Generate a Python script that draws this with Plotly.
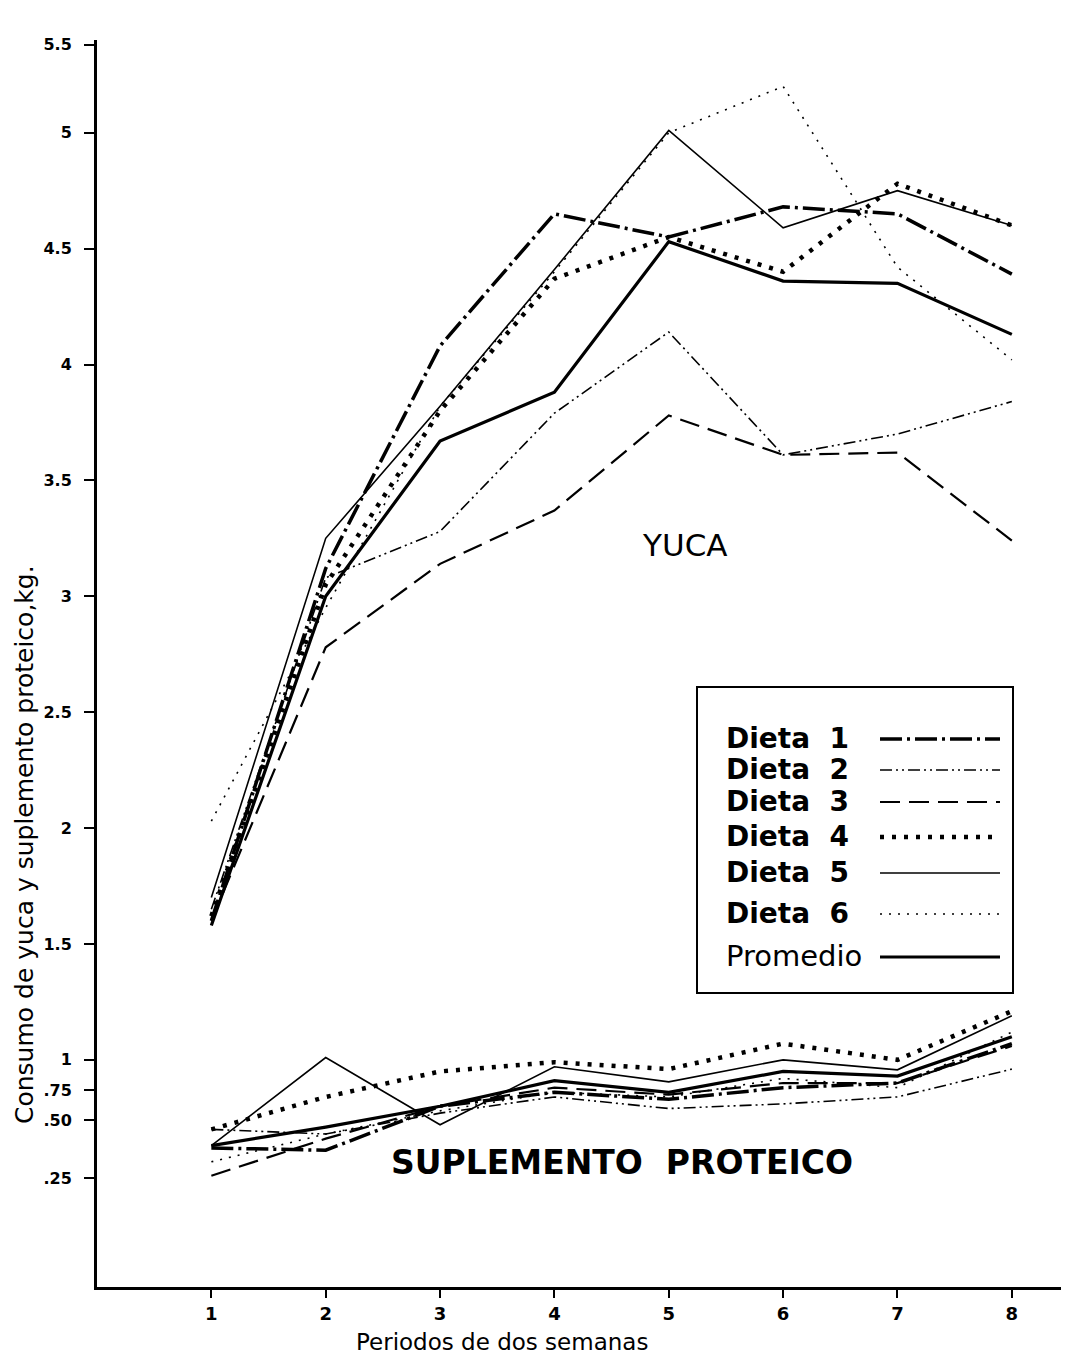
import plotly.graph_objects as go

# ---------------- data ----------------
periodos = [1, 2, 3, 4, 5, 6, 7, 8]
x_tick_labels = ["1", "2", "3", "4", "5", "6", "7", "8"]

series_names = ["Dieta  1", "Dieta  2", "Dieta  3", "Dieta  4", "Dieta  5", "Dieta  6", "Promedio"]

# consumo de yuca (kg)
yuca_d1 = [1.60, 3.12, 4.08, 4.65, 4.55, 4.68, 4.65, 4.39]
yuca_d2 = [1.65, 3.08, 3.28, 3.79, 4.14, 3.61, 3.70, 3.84]
yuca_d3 = [1.60, 2.78, 3.14, 3.37, 3.78, 3.61, 3.62, 3.24]
yuca_d4 = [1.62, 3.05, 3.80, 4.37, 4.55, 4.40, 4.78, 4.60]
yuca_d5 = [1.70, 3.25, 3.82, 4.41, 5.01, 4.59, 4.75, 4.60]
yuca_d6 = [2.03, 2.95, 3.82, 4.40, 5.00, 5.20, 4.42, 4.02]
yuca_prom = [1.58, 3.00, 3.67, 3.88, 4.53, 4.36, 4.35, 4.13]

# consumo de suplemento proteico (kg)
sup_d1 = [0.62, 0.61, 0.80, 0.86, 0.83, 0.88, 0.90, 1.07]
sup_d2 = [0.70, 0.68, 0.77, 0.84, 0.79, 0.81, 0.84, 0.96]
sup_d3 = [0.50, 0.66, 0.80, 0.88, 0.85, 0.90, 0.90, 1.06]
sup_d4 = [0.70, 0.84, 0.95, 0.99, 0.96, 1.07, 1.00, 1.21]
sup_d5 = [0.63, 1.01, 0.72, 0.97, 0.905, 1.00, 0.957, 1.19]
sup_d6 = [0.56, 0.68, 0.78, 0.86, 0.84, 0.92, 0.88, 1.12]
sup_prom = [0.63, 0.71, 0.80, 0.91, 0.86, 0.95, 0.93, 1.10]

y_tick_labels = [".25", ".50", ".75", "1", "1.5", "2", "2.5", "3", "3.5", "4", "4.5", "5", "5.5"]

yuca_all = [yuca_d1, yuca_d2, yuca_d3, yuca_d4, yuca_d5, yuca_d6, yuca_prom]
sup_all = [sup_d1, sup_d2, sup_d3, sup_d4, sup_d5, sup_d6, sup_prom]

# ---------------- styles ----------------
styles = [
    dict(width=3.5, dash="22px,5px,3px,5px"),
    dict(width=1.6, dash="12px,4px,2px,4px,2px,4px"),
    dict(width=2.2, dash="20px,9px"),
    dict(width=4.5, dash="4px,8px"),
    dict(width=1.6, dash="solid"),
    dict(width=1.6, dash="2px,7px"),
    dict(width=3.2, dash="solid"),
]

OFF = 8                     # page body margin
W, H = 1069 - 2 * OFF, 1363 - 2 * OFF
ML, MT = 97 - OFF, 40 - OFF
MB = H - (1287 - OFF)
MR = 0
PW, PH = W - ML - MR, H - MT - MB
X_RANGE = [0, 8.43]
Y_RANGE = [0.02, 5.40]
# tick positions as drawn in the original figure (lower labels are not evenly spaced)
y_tick_pos = [0.49, 0.74, 0.87, 1, 1.5, 2, 2.5, 3, 3.5, 4, 4.5, 5, 5.38]


def px_to_paper(px, py):
    fx, fy = px - OFF, py - OFF
    return (fx - ML) / PW, (H - MB - fy) / PH


FONT = "DejaVu Sans"

fig = go.Figure()
for name, yv, sv, st in zip(series_names, yuca_all, sup_all, styles):
    line = dict(color="black", width=st["width"], dash=st["dash"])
    fig.add_trace(go.Scatter(x=periodos, y=yv, mode="lines", name=name, line=line,
                             legendgroup=name, showlegend=False))
    fig.add_trace(go.Scatter(x=periodos, y=sv, mode="lines", name=name, line=line,
                             legendgroup=name, showlegend=False))

annotations = []
shapes = []


def add_text(text, px, py, size, angle=0, xanchor="center", bold=False):
    x, y = px_to_paper(px, py)
    annotations.append(dict(text=("<b>%s</b>" % text) if bold else text, x=x, y=y,
                            xref="paper", yref="paper", xanchor=xanchor, yanchor="middle",
                            textangle=angle, showarrow=False,
                            font=dict(family=FONT, size=size, color="black")))


# text labels inside plot
add_text("YUCA", 684, 545, 31)
add_text("SUPLEMENTO  PROTEICO", 622, 1162, 33, bold=True)

# axis titles
add_text("Consumo de yuca y suplemento proteico,kg.", 25, 845, 25, angle=-90)
add_text("Periodos de dos semanas", 502, 1342, 23)

# custom legend (labels left, line samples right)
bx0, by0 = px_to_paper(697, 993)
bx1, by1 = px_to_paper(1013, 687)
shapes.append(dict(type="rect", xref="paper", yref="paper", x0=bx0, y0=by0, x1=bx1, y1=by1,
                   line=dict(color="black", width=2), fillcolor="white", layer="above"))
row_y = [738, 769, 801, 836, 872, 913, 956]
for i, (name, st) in enumerate(zip(series_names, styles)):
    if name == "Promedio":
        add_text(name, 724, row_y[i], 29, xanchor="left")
    else:
        add_text(name, 724, row_y[i], 28, xanchor="left", bold=True)
    lx0, ly = px_to_paper(880, row_y[i] + 1)
    lx1, _ = px_to_paper(1000, row_y[i] + 1)
    shapes.append(dict(type="line", xref="paper", yref="paper", x0=lx0, x1=lx1, y0=ly, y1=ly,
                       line=dict(color="black", width=st["width"], dash=st["dash"]), layer="above"))

fig.update_layout(
    width=W, height=H,
    margin=dict(l=ML, r=MR, t=MT, b=MB, pad=0),
    paper_bgcolor="white", plot_bgcolor="white",
    showlegend=False,
    annotations=annotations,
    shapes=shapes,
    font=dict(family=FONT, color="black"),
)
fig.update_xaxes(range=X_RANGE, tickmode="array", tickvals=periodos, ticktext=x_tick_labels,
                 showgrid=False, zeroline=False, showline=True, linecolor="black", linewidth=3,
                 ticks="outside", ticklen=8, tickwidth=2, tickcolor="black",
                 tickfont=dict(family=FONT, size=18, color="black", weight="bold"))
fig.update_yaxes(range=Y_RANGE, tickmode="array", tickvals=y_tick_pos, ticktext=y_tick_labels,
                 showgrid=False, zeroline=False, showline=True, linecolor="black", linewidth=3,
                 ticks="outside", ticklen=10, tickwidth=2, tickcolor="black",
                 ticklabelstandoff=9,
                 tickfont=dict(family=FONT, size=16, color="black", weight="bold"))

fig.write_html("out.html")
